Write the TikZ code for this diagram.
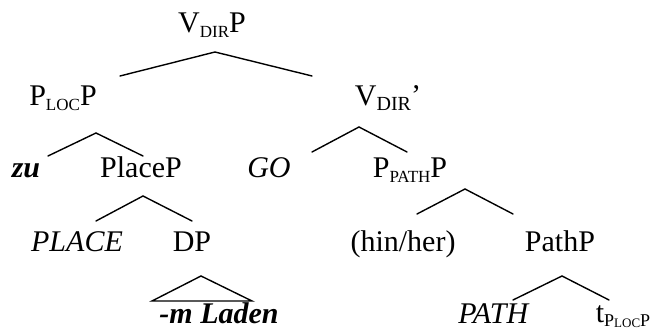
\documentclass[tikz,border=0pt]{standalone}
\usepackage{fontspec}
\setmainfont{Liberation Serif}
\usetikzlibrary{positioning}
\newcommand{\lsub}[2][8.5]{\raisebox{-2.2pt}{\fontsize{#1}{#1}\selectfont #2}}
\tikzset{
  cat/.style={anchor=base,inner sep=0pt,font=\fontsize{15}{18}\selectfont},
  branch/.style={line width=0.7pt,line cap=round}
}

\begin{document}
\begin{tikzpicture}[x=0.5pt,y=-0.5pt]
  \useasboundingbox (0,0) rectangle (654,330);
  % labels, row by row
  \node[cat] (vdirp) at (212,33) {V\lsub{DIR}P};
  \node[cat] (plocp) at (63,106) {P\lsub{LOC}P};
  \node[cat] (vdirbar) at (388,106) {V\lsub[10]{DIR}’};
  \node[cat] (zu) at (26,178) {\textbf{\textit{zu}}};
  \node[cat] (placep) at (141,178) {PlaceP};
  \node[cat] (go) at (269,178) {\textit{GO}};
  \node[cat] (ppathp) at (410,178) {P\lsub{PATH}P};
  \node[cat] (place) at (77,252) {\textit{PLACE}};
  \node[cat] (dp) at (192,252) {DP};
  \node[cat] (hinher) at (403,252) {(hin/her)};
  \node[cat] (pathp) at (560,252) {PathP};
  \node[cat] (mladen) at (219,324) {\textbf{\textit{-m Laden}}};
  \node[cat] (path) at (494,324) {\textit{PATH}};
  \node[cat] (trace) at (623,323) {t\raisebox{-1.6pt}{\fontsize{9}{9}\selectfont
    P\raisebox{-0.6pt}{\fontsize{6.5}{6.5}\selectfont LOC}P}};
  % branch points
  \coordinate (vdirp-top) at (215,52);
  \coordinate (vdirp-l) at (120,76);
  \coordinate (vdirp-r) at (312,76);
  \coordinate (plocp-top) at (96,133);
  \coordinate (plocp-l) at (48,156);
  \coordinate (plocp-r) at (143,156);
  \coordinate (vdirbar-top) at (359,127);
  \coordinate (vdirbar-l) at (312,152);
  \coordinate (vdirbar-r) at (407,152);
  \coordinate (placep-top) at (143,196);
  \coordinate (placep-l) at (96,221);
  \coordinate (placep-r) at (192,221);
  \coordinate (ppathp-top) at (465,189);
  \coordinate (ppathp-l) at (417,214);
  \coordinate (ppathp-r) at (513,214);
  \coordinate (pathp-top) at (562,276);
  \coordinate (pathp-l) at (513,300);
  \coordinate (pathp-r) at (609,300);
  \coordinate (dp-top) at (201,276);
  \coordinate (dp-l) at (152,301);
  \coordinate (dp-r) at (252,301);
  % branches
  \draw[branch] (vdirp-l) -- (vdirp-top) -- (vdirp-r);
  \draw[branch] (plocp-l) -- (plocp-top) -- (plocp-r);
  \draw[branch] (vdirbar-l) -- (vdirbar-top) -- (vdirbar-r);
  \draw[branch] (placep-l) -- (placep-top) -- (placep-r);
  \draw[branch] (ppathp-l) -- (ppathp-top) -- (ppathp-r);
  \draw[branch] (pathp-l) -- (pathp-top) -- (pathp-r);
  \draw[branch] (dp-l) -- (dp-top) -- (dp-r) -- cycle;
\end{tikzpicture}
\end{document}
